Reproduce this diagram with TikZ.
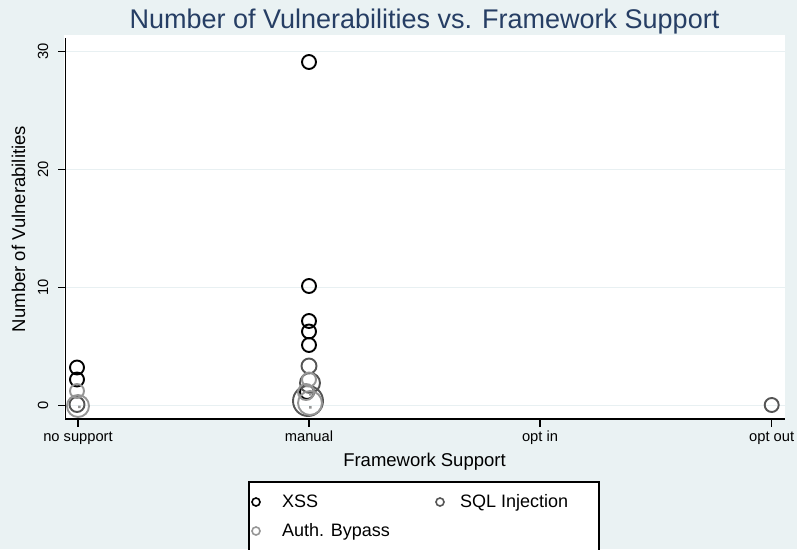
\documentclass[tikz,border=0pt]{standalone}
\usepackage{fontspec}
\setmainfont{Liberation Sans}
\usepackage{tikz}

\definecolor{bgblue}{RGB}{234,242,243}
\definecolor{gridblue}{RGB}{232,240,242}
\definecolor{titlenavy}{RGB}{38,62,100}
\definecolor{sqlgray}{RGB}{85,85,85}
\definecolor{authgray}{RGB}{150,150,150}

\tikzset{
  xss/.style={draw=black, line width=1.9pt},
  sqli/.style={draw=sqlgray, line width=1.9pt},
  auth/.style={draw=authgray, line width=1.9pt},
  legmark/.style={line width=1.6pt},
  ticklab/.style={inner sep=0pt, anchor=base, font=\fontsize{14.7}{16}\selectfont},
  axistitle/.style={inner sep=0pt, anchor=base, font=\fontsize{18.5}{20}\selectfont},
  legtext/.style={inner sep=0pt, anchor=base west, font=\fontsize{18}{20}\selectfont},
}

\begin{document}
\begin{tikzpicture}[x=1pt,y=1pt,yscale=-1,xscale=1]
\clip (0,0) rectangle (797,549);
\fill[bgblue] (0,0) rectangle (797,549);
\fill[white] (64,35) rectangle (785,419);
% grid
\draw[gridblue, line width=1.5pt] (66,51.7) -- (785,51.7) (66,169.3) -- (785,169.3) (66,287.7) -- (785,287.7) (66,405.7) -- (785,405.7);
% axes
\draw[line width=1.5pt] (65.5,38) -- (65.5,419) -- (785,419);
\draw[line width=1.3pt] (58,51.7) -- (65.5,51.7) (58,169.3) -- (65.5,169.3) (58,287.7) -- (65.5,287.7) (58,405.7) -- (65.5,405.7);
\draw[line width=1.3pt] (78,419) -- (78,427) (309,419) -- (309,427) (540,419) -- (540,427) (771.7,419) -- (771.7,427);
% tick labels
\draw (48,51.7) node [ticklab, rotate=90] (y30) {30};
\draw (48,169.3) node [ticklab, rotate=90] (y20) {20};
\draw (48,287.7) node [ticklab, rotate=90] (y10) {10};
\draw (48,405.7) node [ticklab, rotate=90] (y0) {0};
\draw (78,441) node [ticklab] (xnone) {no support};
\draw (309,441) node [ticklab] (xmanual) {manual};
\draw (540,441) node [ticklab] (xoptin) {opt in};
\draw (771.7,441) node [ticklab] (xoptout) {opt out};
% titles
\draw (424.5,28) node [inner sep=0pt, anchor=base, text=titlenavy, font=\fontsize{27}{30}\selectfont] (title) {Number of Vulnerabilities vs. Framework Support};
\draw (424.5,466) node [axistitle] (xtitle) {Framework Support};
\draw (25,229) node [axistitle, rotate=90] (ytitle) {Number of Vulnerabilities};
% XSS
\draw[xss] (77,367.5) circle (7pt) (77,379.5) circle (7pt);
\draw[xss] (309,62) circle (7pt) (309,286) circle (7pt) (309,321) circle (7pt) (309,331.5) circle (7pt) (309,345) circle (7pt) (307,392) circle (7pt);
% SQL Injection
\draw[sqli] (77,404.5) circle (7.5pt);
\draw[sqli] (309,366) circle (7.5pt) (310,383) circle (10pt) (308,401) circle (15pt);
\draw[sqli] (771.7,405) circle (7pt);
% Auth. Bypass
\draw[auth] (77,391) circle (7pt) (78,406) circle (11pt);
\draw[auth] (309,379.5) circle (7pt) (306,392) circle (8pt) (310,403) circle (12pt);
\fill[authgray] (78,405.5) rectangle (80.5,408) (309,393) rectangle (311.5,395.5) (309,406) rectangle (311.5,408.5);
% legend
\draw[fill=white, line width=1.3pt] (249,482) rectangle (599,560);
\draw[legmark, black] (256,502) circle (4pt);
\draw[legmark, sqlgray] (440,502) circle (4pt);
\draw[legmark, authgray] (256,531) circle (4pt);
\draw (282,507.5) node [legtext] (lxss) {XSS};
\draw (460,507.5) node [legtext] (lsql) {SQL Injection};
\draw (282,536) node [legtext] (lauth) {Auth. Bypass};
\end{tikzpicture}
\end{document}
